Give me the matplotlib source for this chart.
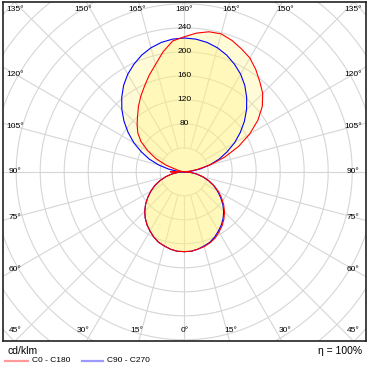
import numpy as np
import matplotlib
matplotlib.use('Agg')
import matplotlib.pyplot as plt
from matplotlib.lines import Line2D

plt.rcParams['font.family'] = ['Liberation Sans', 'DejaVu Sans']

# gamma angles (0 = down, 180 = up), step 5 deg
gamma = np.arange(0, 181, 5)

# C0 - C180 plane (red), cd/klm
c0 = [133, 133, 131, 129, 126, 122, 116, 110, 103, 95, 86, 76, 66, 55, 44, 33, 21, 10, 0,
      8, 22, 45, 72, 100, 126, 150, 170, 185, 196, 208, 219, 226, 233, 238, 237, 232, 225]
c180 = [133, 133, 131, 128, 125, 120, 114, 108, 101, 93, 84, 74, 64, 54, 43, 32, 21, 10, 23,
        2, 5, 12, 32, 52, 70, 88, 101, 111, 121, 133, 145, 157, 171, 185, 203, 219, 225]

# C90 - C270 plane (blue), symmetric
c90 = [133, 133, 131, 128, 125, 120, 114, 108, 101, 93, 84, 74, 64, 54, 43, 32, 21, 10, 0,
       12, 27, 44, 62, 79, 97, 114, 131, 147, 162, 176, 188, 198, 207, 214, 219, 222, 223]
c270 = c90

rings = np.arange(40, 441, 40)
ring_labels = [80, 120, 160, 200, 240]
spokes = np.arange(0, 360, 15)

fig = plt.figure(figsize=(3.7, 3.7), dpi=100)
ax = fig.add_axes([3 / 370, 29 / 370, 363 / 370, 339 / 370])
ax.set_xlim(-302, 303)
ax.set_ylim(-282, 283)
ax.set_xticks([])
ax.set_yticks([])
for s in ax.spines.values():
    s.set_color('#222222')
    s.set_linewidth(1.2)

# polar grid
grid_c = '#d6d6d6'
t = np.linspace(0, 2 * np.pi, 400)
for r in rings:
    ax.plot(r * np.cos(t), r * np.sin(t), color=grid_c, lw=0.8, zorder=1)
for a in spokes:
    rad = np.deg2rad(a)
    r0 = 0 if a % 180 == 90 else 40
    ax.plot([r0 * np.sin(rad), 600 * np.sin(rad)],
            [-r0 * np.cos(rad), -600 * np.cos(rad)], color=grid_c, lw=0.8, zorder=1)


def curve(right, left):
    g = np.deg2rad(gamma)
    r = np.asarray(right, float)
    l = np.asarray(left, float)[::-1]
    gl = g[::-1]
    x = np.concatenate([r * np.sin(g), -l * np.sin(gl)])
    y = np.concatenate([-r * np.cos(g), -l * np.cos(gl)])
    return x, y


xr, yr = curve(c0, c180)
xb, yb = curve(c90, c270)
ax.fill(xr, yr, color='#fff27a', alpha=0.3, lw=0, zorder=2)
ax.fill(xb, yb, color='#fff27a', alpha=0.3, lw=0, zorder=2)
ax.plot(xr, yr, color='#ff0000', lw=0.8, zorder=4)
ax.plot(xb, yb, color='#0000ff', lw=0.8, zorder=3)

# radial labels
for v in ring_labels:
    ax.text(0, v, str(v), fontsize=6, ha='center', va='center', zorder=5)

# angle labels along the frame
for a in range(0, 181, 15):
    rad = np.deg2rad(a)
    for side in (1, -1):
        if a in (0, 180) and side == -1:
            continue
        if a <= 30:
            x, y = 292 * np.tan(rad), -265
        elif a >= 150:
            x, y = 292 * np.tan(np.pi - rad), 270
        elif a == 45:
            x, y = 282, -265
        elif a == 135:
            x, y = 282, 270
        else:
            x, y = 282, -282 * np.cos(rad) / np.sin(rad)
        ax.text(side * x, y, f'{a}°', fontsize=6, ha='center', va='center', zorder=5)

# footer
fig.text(7 / 370, 1 - 351 / 370, 'cd/klm', fontsize=7.5, ha='left', va='center')
fig.text(362 / 370, 1 - 351 / 370, 'η = 100%', fontsize=7.5, ha='right', va='center')
ly = 1 - 361 / 370
fig.add_artist(Line2D([5 / 370, 28 / 370], [ly, ly], color='#ff9a9a', lw=1.6))
fig.text(32 / 370, ly, 'C0 - C180', fontsize=6, ha='left', va='center')
fig.add_artist(Line2D([82 / 370, 103 / 370], [ly, ly], color='#9a9aff', lw=1.6))
fig.text(107 / 370, ly, 'C90 - C270', fontsize=6, ha='left', va='center')

fig.savefig('out.png', dpi=100)
